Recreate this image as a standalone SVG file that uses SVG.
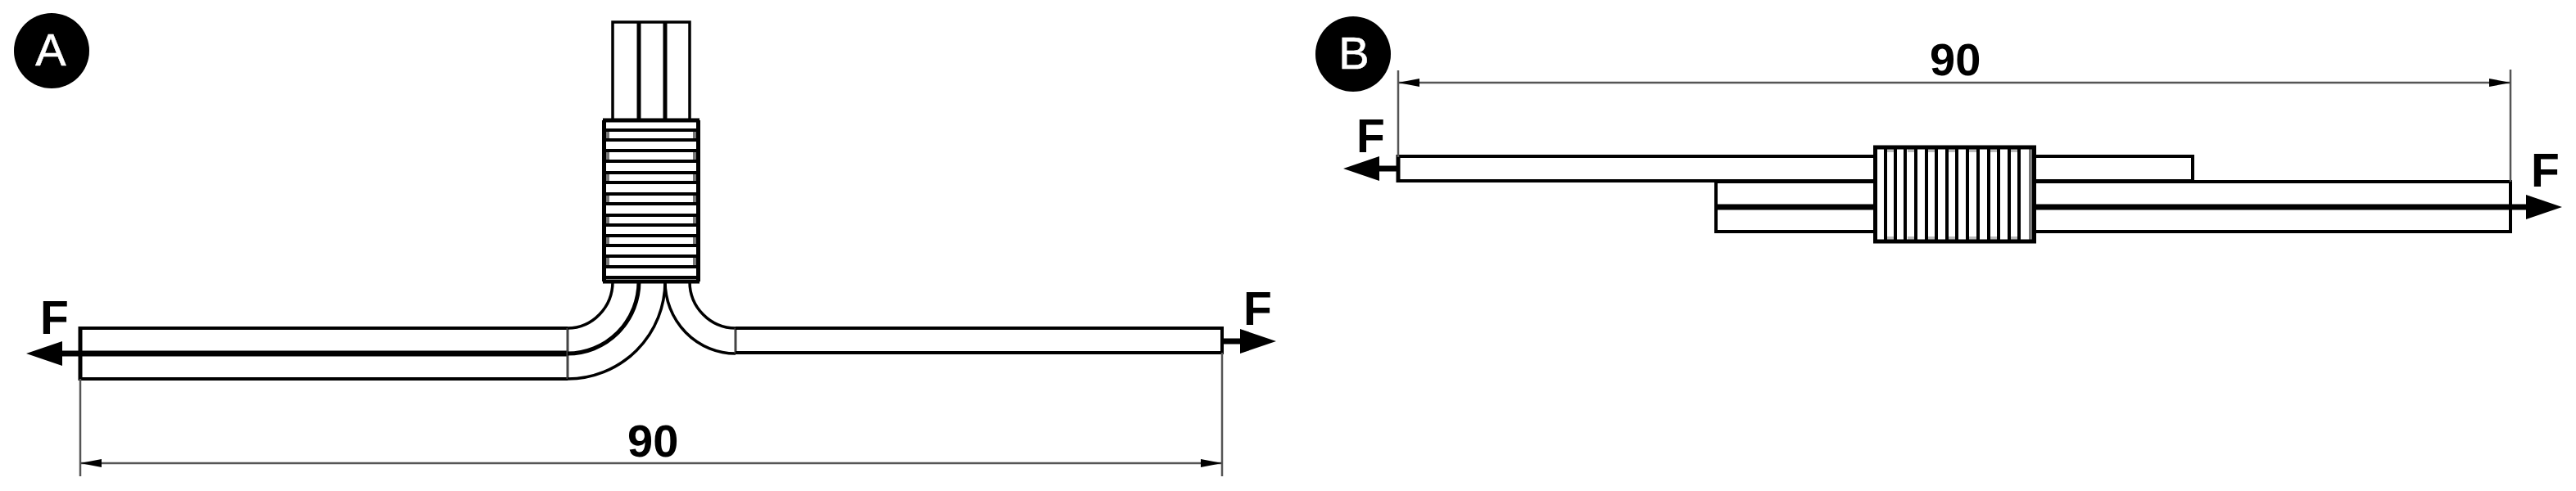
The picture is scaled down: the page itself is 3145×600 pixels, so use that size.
<svg xmlns="http://www.w3.org/2000/svg" width="3145" height="600" viewBox="0 0 3145 600">
<style>
.o{fill:none;stroke:#000;stroke-width:3.500}
.t{fill:none;stroke:#000;stroke-width:5}
.h{fill:none;stroke:#000;stroke-width:7}
.m{fill:none;stroke:#444;stroke-width:3}
.r{fill:none;stroke:#000;stroke-width:4}
.b{fill:#777}
.g{fill:#bbb}
.d{fill:none;stroke:#555;stroke-width:2.500}
.f{fill:none;stroke:#000;stroke-width:7}
.lab{font-family:"Liberation Sans",Arial,sans-serif;font-weight:700;font-size:57px;fill:#000}
.val{font-family:"Liberation Sans",Arial,sans-serif;font-weight:700;font-size:56px;fill:#000}
.num{font-family:"Liberation Sans",Arial,sans-serif;font-size:56px;fill:#fff;stroke:#fff;stroke-width:.6;text-anchor:middle}
</style>
<defs>
<marker id="force" markerUnits="userSpaceOnUse" markerWidth="44" markerHeight="32" viewBox="0 0 44 32" refX="0" refY="16" orient="auto-start-reverse"><path d="M0 1L44 16L0 31Z" fill="#000"/></marker>
<marker id="dim" markerUnits="userSpaceOnUse" markerWidth="26" markerHeight="12" viewBox="0 0 26 12" refX="26" refY="6" orient="auto-start-reverse"><path d="M0 1L26 6L0 11Z" fill="#000"/></marker>
</defs>
<rect width="3145" height="600" fill="#fff"/>

<g id="badge-a"><circle cx="63" cy="62" r="46" fill="#000"/><text class="num" x="62" y="80">A</text></g>
<g id="badge-b"><circle cx="1652" cy="66" r="46" fill="#000"/><text class="num" x="1653" y="84">B</text></g>

<g id="specimen-a">
<g id="a-top"><rect class="o" x="748" y="27" width="94" height="120"/><path class="t" d="M780 27V147M812 27V147"/></g>
<g id="a-left-leg">
<path class="r" d="M98 401H693M98 463H693"/><path class="h" d="M98 432H693"/><path class="t" d="M98 399V465"/><path class="m" d="M693 401V463"/>
<path class="o" d="M693 401A55 57 0 0 0 748 344"/><path class="t" d="M693 432A87 88 0 0 0 780 344"/><path class="o" d="M693 463A119 119 0 0 0 812 344"/>
</g>
<g id="a-right-leg">
<path class="o" d="M812 344A86 88 0 0 0 898 432M842 344A56 57 0 0 0 898 401"/><path class="m" d="M898 401V432"/>
<path class="r" d="M898 401H1492M898 431H1492M1492 399V433"/>
</g>
<g id="a-coil">
<path class="b" d="M739 159h5v12h-5zM739 184h5v13h-5zM739 211h5v12h-5zM739 237h5v12h-5zM739 263h5v12h-5zM739 288h5v12h-5zM739 313h5v13h-5zM846 159h5v12h-5zM846 184h5v13h-5zM846 211h5v12h-5zM846 237h5v12h-5zM846 263h5v12h-5zM846 288h5v12h-5zM846 313h5v13h-5z"/>
<path class="t" d="M736 147H854M736 344H854M737.500 147V344M852.500 147V344"/>
<path class="r" d="M738 159H852M738 171H852M738 184H852M738 197H852M738 211H852M738 223H852M738 237H852M738 249H852M738 263H852M738 275H852M738 288H852M738 300H852M738 313H852M738 326H852M738 339H852"/>
</g>
</g>

<g id="specimen-b">
<g id="b-upper-strip"><path class="r" d="M1707 191H2677V221H1707Z"/><path class="t" d="M1707 189V223"/></g>
<g id="b-lower-strip"><path class="r" d="M2095 222H3065V283H2095Z"/><path class="h" d="M2095 253H3065"/></g>
<g id="b-coil">
<rect x="2289" y="179" width="195" height="117" fill="#fff"/>
<path class="g" d="M2304 181h9v5h-9zM2329 181h9v5h-9zM2354 181h9v5h-9zM2379 181h9v5h-9zM2404 181h10v5h-10zM2430 181h9v5h-9zM2455 181h9v5h-9zM2304 289h9v5h-9zM2329 289h9v5h-9zM2354 289h9v5h-9zM2379 289h9v5h-9zM2404 289h10v5h-10zM2430 289h9v5h-9zM2455 289h9v5h-9z"/>
<rect class="b" x="2477" y="181" width="5" height="113"/>
<path class="r" d="M2302 181V294M2314 181V294M2326 181V294M2339 181V294M2352 181V294M2364 181V294M2377 181V294M2389 181V294M2402 181V294M2415 181V294M2428 181V294M2440 181V294M2453 181V294M2465 181V294"/>
<rect class="t" x="2289.500" y="180" width="194" height="115"/>
</g>
</g>

<g id="connectors">
<path class="d" d="M98 463V582M1492 431V582"/>
<path class="d" d="M98 566H1492" marker-start="url(#dim)" marker-end="url(#dim)"/>
<path class="d" d="M1707 86V192M3065 85V222"/>
<path class="d" d="M1707 101H3065" marker-start="url(#dim)" marker-end="url(#dim)"/>
<path class="f" d="M98 432H76" marker-end="url(#force)"/>
<path class="f" d="M1492 417H1514" marker-end="url(#force)"/>
<path class="f" d="M1707 206H1684" marker-end="url(#force)"/>
<path class="f" d="M3065 253H3084" marker-end="url(#force)"/>
</g>

<g id="labels">
<text class="lab" x="49" y="408">F</text>
<text class="lab" x="1518" y="397">F</text>
<text class="lab" x="1656" y="186">F</text>
<text class="lab" x="3090" y="228">F</text>
<text class="val" x="766" y="558">90</text>
<text class="val" x="2356" y="92">90</text>
</g>
</svg>
